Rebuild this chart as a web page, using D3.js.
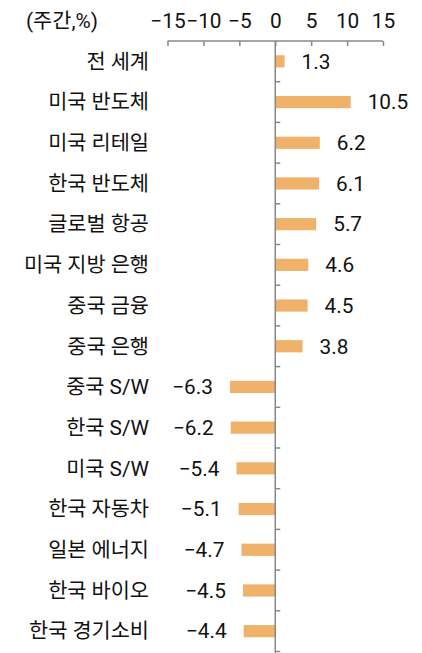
<!DOCTYPE html>
<html><head><meta charset="utf-8">
<script src="https://cdn.jsdelivr.net/npm/d3@7"></script>
<style>
body{margin:0;background:#fff;}
text{font-family:Roboto,"Noto Sans CJK KR",sans-serif;fill:#111;}
</style></head>
<body><svg id="c" width="422" height="653"></svg>
<script>
const categories = ["전 세계","미국 반도체","미국 리테일","한국 반도체","글로벌 항공","미국 지방 은행","중국 금융","중국 은행","중국 S/W","한국 S/W","미국 S/W","한국 자동차","일본 에너지","한국 바이오","한국 경기소비"];
const values = [1.3,10.5,6.2,6.1,5.7,4.6,4.5,3.8,-6.3,-6.2,-5.4,-5.1,-4.7,-4.5,-4.4];
const xTicks = [-15,-10,-5,0,5,10,15];
const unitLabel = "(주간,%)";

const svg = d3.select("#c");
const x = d3.scaleLinear().domain([-15,15]).range([167.5,383]);
const y = d3.scaleBand().domain(categories).range([41,651.5]).paddingInner(0.7).paddingOuter(0.35);
const step = y.step();
const fs = 20.8;

// top axis
const gx = svg.append("g").attr("transform","translate(0,41)")
  .call(d3.axisTop(x).tickValues(xTicks).tickSize(-5).tickSizeOuter(0).tickPadding(13));
gx.select(".domain").attr("stroke","#888").attr("stroke-width",1.5).attr("d",`M${x(-15)},0H${x(15)}`);
gx.selectAll(".tick line").attr("stroke","#888").attr("stroke-width",1.5);
gx.selectAll(".tick text").style("font-size",fs+"px").attr("fill","#111");

svg.append("text").attr("x",26).attr("y",28).style("font-size",fs+"px").text(unitLabel);

// bars
svg.selectAll("rect.bar").data(values).join("rect")
  .attr("class","bar")
  .attr("x",(d)=>x(Math.min(0,d)))
  .attr("width",(d)=>Math.abs(x(d)-x(0)))
  .attr("y",(d,i)=>y(categories[i]))
  .attr("height",y.bandwidth())
  .attr("fill","#F0B26B");

// zero axis with ticks at boundaries
const boundaries = d3.range(categories.length+1).map(i=>41+i*step);
svg.append("line").attr("x1",x(0)).attr("x2",x(0)).attr("y1",41).attr("y2",653)
  .attr("stroke","#888").attr("stroke-width",1.5);
svg.selectAll("line.yt").data(boundaries.slice(1)).join("line").attr("class","yt")
  .attr("x1",x(0)).attr("x2",x(0)+5).attr("y1",d=>d).attr("y2",d=>d)
  .attr("stroke","#888").attr("stroke-width",1.5);

// category labels
svg.selectAll("text.cat").data(categories).join("text").attr("class","cat")
  .attr("x",149).attr("y",d=>y(d)+y.bandwidth()/2).attr("dy","0.35em")
  .attr("text-anchor","end").style("font-size",fs+"px").text(d=>d);

// value labels
const fmt = d3.format(".1f");
svg.selectAll("text.val").data(values).join("text").attr("class","val")
  .attr("x",d=>d>=0 ? x(d)+17 : x(d)-17)
  .attr("y",(d,i)=>y(categories[i])+y.bandwidth()/2).attr("dy","0.35em")
  .attr("text-anchor",d=>d>=0?"start":"end").style("font-size",fs+"px")
  .text(d=>fmt(d));
</script></body></html>
